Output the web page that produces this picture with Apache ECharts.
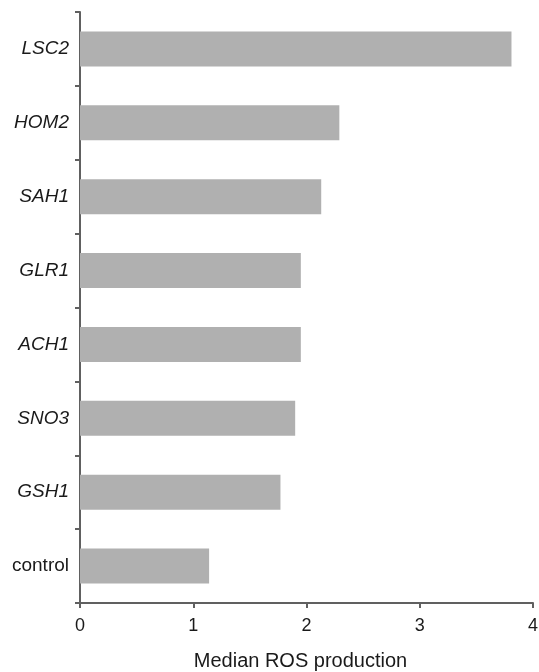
<!DOCTYPE html>
<html>
<head>
<meta charset="utf-8">
<script src="https://cdn.jsdelivr.net/npm/echarts@6/dist/echarts.min.js"></script>
<style>html,body{margin:0;padding:0;background:#fff}#c{width:539px;height:672px}</style>
</head>
<body>
<div id="c"></div>
<script>
const categories = ['control', 'GSH1', 'SNO3', 'ACH1', 'GLR1', 'SAH1', 'HOM2', 'LSC2'];
const values = [1.14, 1.77, 1.90, 1.95, 1.95, 2.13, 2.29, 3.81];
const xTicks = [0, 1, 2, 3, 4];

const chart = echarts.init(document.getElementById('c'), null, {renderer: 'canvas'});
const axisColor = '#606060';
chart.setOption({
  animation: false,
  grid: {left: 80, right: 6, top: 12, bottom: 69, containLabel: false, outerBoundsMode: 'none'},
  xAxis: {
    type: 'value', min: xTicks[0], max: xTicks[xTicks.length - 1], interval: 1,
    name: 'Median ROS production', nameLocation: 'middle', nameGap: 48,
    nameTextStyle: {fontFamily: 'Liberation Sans', fontSize: 20, color: '#1a1a1a', padding: [0, 12, 0, 0]},
    axisLine: {show: true, lineStyle: {color: axisColor, width: 2}},
    axisTick: {show: true, length: 5, lineStyle: {color: axisColor, width: 2}},
    axisLabel: {fontFamily: 'Liberation Sans', fontSize: 18, color: '#1a1a1a', margin: 14},
    splitLine: {show: false}
  },
  yAxis: {
    type: 'category', data: categories,
    axisLine: {show: true, lineStyle: {color: axisColor, width: 2}},
    axisTick: {show: true, length: 5, alignWithLabel: false, lineStyle: {color: axisColor, width: 2}},
    axisLabel: {
      fontFamily: 'Liberation Sans', fontSize: 19, color: '#1a1a1a', margin: 11,
      formatter: v => v === 'control' ? v : '{i|' + v + '}',
      rich: {i: {fontStyle: 'italic', fontFamily: 'Liberation Sans', fontSize: 19, color: '#1a1a1a'}}
    }
  },
  series: [{
    type: 'bar', data: values, barWidth: 35,
    itemStyle: {color: '#b0b0b0'}
  }]
});
</script>
</body>
</html>
